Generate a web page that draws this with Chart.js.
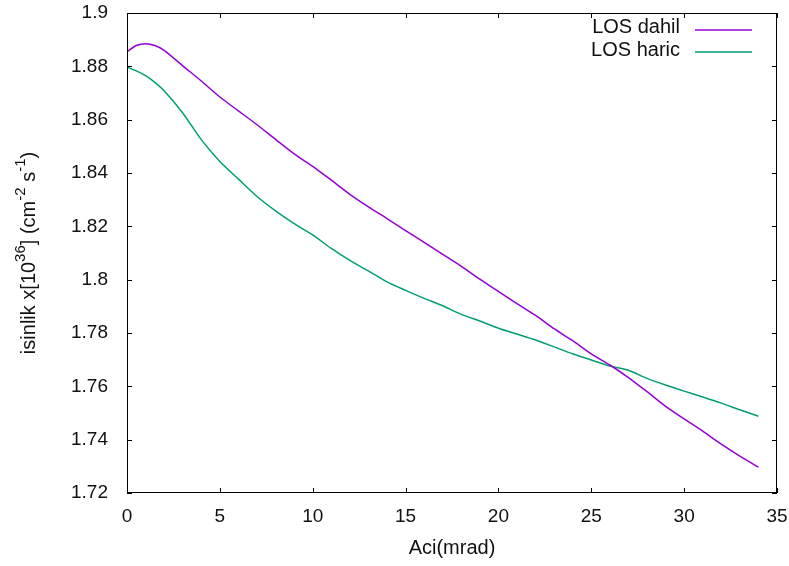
<!DOCTYPE html>
<html>
<head>
<meta charset="utf-8">
<script src="https://cdn.jsdelivr.net/npm/chart.js@4.4.1/dist/chart.umd.min.js"></script>
<style>
  html, body { margin: 0; padding: 0; background: #fff; }
  #wrap { width: 789px; height: 566px; }
</style>
</head>
<body>
<div id="wrap"><canvas id="grafik"></canvas></div>
<script>
// veriler
var aci = [0, 0.5, 1, 1.5, 2, 3, 4, 5, 6, 7, 8, 9, 10, 11, 12, 13, 14, 15, 16, 17,
           18, 19, 20, 21, 22, 23, 24, 25, 26, 27, 28, 29, 30, 31, 32, 33, 34];
var losDahil = [1.8855, 1.8878, 1.8885, 1.8878, 1.8860, 1.8802, 1.8745, 1.8685, 1.8633, 1.8581,
                1.8526, 1.8472, 1.8425, 1.8373, 1.8320, 1.8273, 1.8229, 1.8184, 1.8140, 1.8095,
                1.8050, 1.8002, 1.7956, 1.7910, 1.7866, 1.7816, 1.7771, 1.7722, 1.7680, 1.7633,
                1.7580, 1.7525, 1.7478, 1.7432, 1.7383, 1.7338, 1.7297];
var losHaric = [1.8797, 1.8783, 1.8765, 1.8740, 1.8708, 1.8625, 1.8525, 1.8443, 1.8377, 1.8312,
                1.8258, 1.8210, 1.8168, 1.8117, 1.8072, 1.8033, 1.7992, 1.7960, 1.7930, 1.7902,
                1.7870, 1.7845, 1.7818, 1.7796, 1.7774, 1.7748, 1.7722, 1.7699, 1.7676, 1.7660,
                1.7630, 1.7605, 1.7582, 1.7560, 1.7537, 1.7512, 1.7488];
var etiketler = ["LOS dahil", "LOS haric"];
var renkler = ["#9400D3", "#009E73"];

var yazi = "'Liberation Sans', Arial, sans-serif";

let noktalar = (xs, ys) => xs.map((x, i) => ({ x: x, y: ys[i] }));

// gnuplot tarzi cerceve, iceri dogru tikler, y basligi ve lejant
var gnuplotStil = {
  id: "gnuplotStil",
  afterDraw: (chart) => {
    var ctx = chart.ctx;
    var a = chart.chartArea;
    var xs = chart.scales.x, ys = chart.scales.y;
    var tl = 5;
    ctx.save();
    ctx.strokeStyle = "#000";
    ctx.lineWidth = 1;
    ctx.strokeRect(a.left + 0.5, a.top + 0.5, a.right - a.left - 1, a.bottom - a.top - 1);
    ctx.beginPath();
    xs.ticks.forEach(t => {
      var px = Math.round(xs.getPixelForValue(t.value)) + 0.5;
      ctx.moveTo(px, a.bottom); ctx.lineTo(px, a.bottom - tl);
      ctx.moveTo(px, a.top); ctx.lineTo(px, a.top + tl);
    });
    ys.ticks.forEach(t => {
      var py = Math.round(ys.getPixelForValue(t.value)) + 0.5;
      ctx.moveTo(a.left, py); ctx.lineTo(a.left + tl, py);
      ctx.moveTo(a.right, py); ctx.lineTo(a.right - tl, py);
    });
    ctx.stroke();

    // lejant
    ctx.font = "20px " + yazi;
    ctx.textAlign = "right";
    ctx.textBaseline = "middle";
    chart.data.datasets.forEach((ds, i) => {
      ctx.fillStyle = "#111";
      ctx.fillText(ds.label, 680, 27 + i * 23);
      var ly = 30 + i * 22;
      ctx.strokeStyle = ds.borderColor;
      ctx.lineWidth = 1.5;
      ctx.beginPath();
      ctx.moveTo(695, ly); ctx.lineTo(752, ly);
      ctx.stroke();
    });

    // y basligi (ust simgeli)
    var parcalar = [["isinlik x[10", 0], ["36", 1], ["] (cm", 0], ["-2", 1], [" s", 0], ["-1", 1], [")", 0]];
    ctx.translate(29, 253);
    ctx.rotate(-Math.PI / 2);
    ctx.textAlign = "left";
    ctx.textBaseline = "middle";
    ctx.fillStyle = "#111";
    var toplam = 0;
    parcalar.forEach(p => {
      ctx.font = (p[1] ? "15px " : "20px ") + yazi;
      toplam += ctx.measureText(p[0]).width;
    });
    var cx = -toplam / 2;
    parcalar.forEach(p => {
      ctx.font = (p[1] ? "15px " : "20px ") + yazi;
      ctx.fillText(p[0], cx, p[1] ? -8 : 0);
      cx += ctx.measureText(p[0]).width;
    });
    ctx.restore();
  }
};

var ctx1 = document.getElementById("grafik").getContext("2d");
var grafik = new Chart(ctx1, {
  type: "line",
  data: {
    datasets: [{
      label: etiketler[0],
      data: noktalar(aci, losDahil),
      borderColor: renkler[0],
      borderWidth: 1.5,
      pointRadius: 0,
      fill: false,
      tension: 0.25
    }, {
      label: etiketler[1],
      data: noktalar(aci, losHaric),
      borderColor: renkler[1],
      borderWidth: 1.5,
      pointRadius: 0,
      fill: false,
      tension: 0.25
    }]
  },
  options: {
    responsive: true,
    maintainAspectRatio: false,
    animation: false,
    layout: { padding: { left: 0, right: 12, top: 13, bottom: 0 } },
    plugins: {
      legend: { display: false },
      tooltip: { enabled: false }
    },
    scales: {
      x: {
        type: "linear",
        min: 0,
        max: 35,
        grid: { display: false, drawTicks: false },
        border: { display: false },
        ticks: {
          stepSize: 5,
          padding: 12,
          color: "#111",
          font: { family: yazi, size: 19 }
        },
        title: {
          display: true,
          text: "Aci(mrad)",
          color: "#111",
          font: { family: yazi, size: 20 },
          padding: { top: 4, bottom: 6 }
        },
        afterFit: (s) => {
          s.height = 73;
          s.paddingLeft = 0;
          s.paddingRight = 0;
        }
      },
      y: {
        min: 1.72,
        max: 1.9,
        grid: { display: false, drawTicks: false },
        border: { display: false },
        ticks: {
          stepSize: 0.02,
          padding: 19,
          color: "#111",
          font: { family: yazi, size: 19 },
          callback: (v) => String(+v.toFixed(2))
        },
        afterFit: (s) => {
          s.width = 127;
          s.paddingTop = 0;
          s.paddingBottom = 0;
        }
      }
    }
  },
  plugins: [gnuplotStil]
});
</script>
</body>
</html>
